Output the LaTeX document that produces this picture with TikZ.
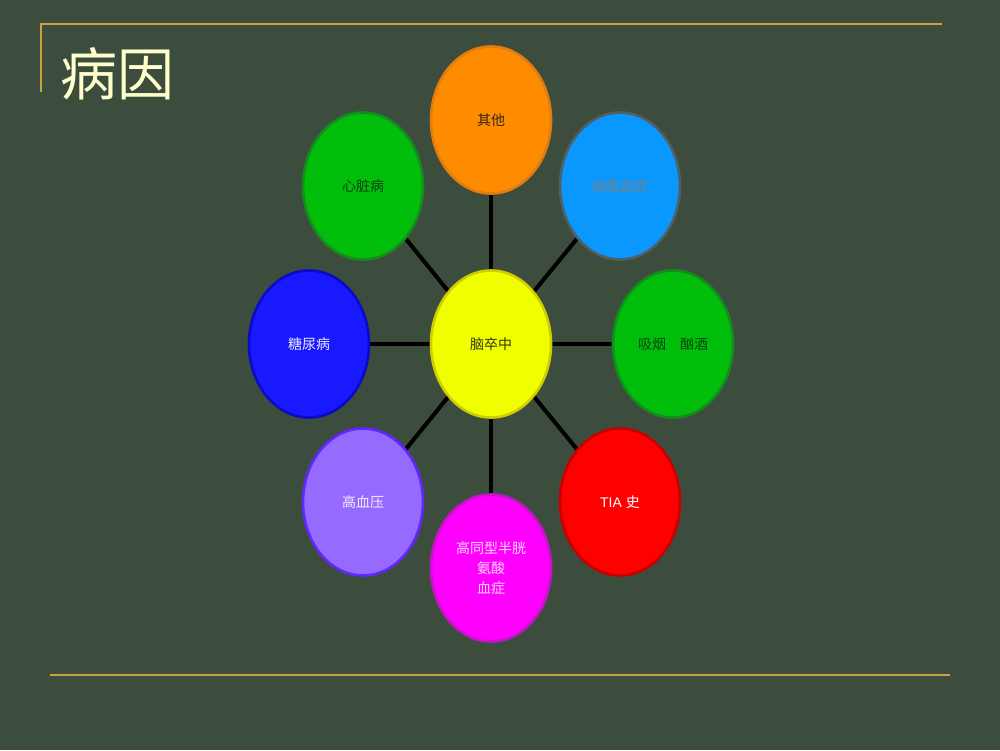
\documentclass[tikz,border=0pt]{standalone}
\usepackage{fontspec}
\setmainfont{Liberation Sans}
\newfontfamily\cjk{Noto Sans CJK SC}
\usetikzlibrary{shapes.geometric}
\definecolor{bg}{HTML}{3C4C3D}
\definecolor{gold}{HTML}{C9A143}
\definecolor{titlec}{HTML}{FFFFCC}
\tikzset{
  bubble/.style={ellipse, minimum width=120pt, minimum height=147pt, inner sep=0pt,
    line width=2.6pt, align=center, font=\cjk\fontsize{14}{20}\selectfont},
  spoke/.style={line width=4pt, black},
  rule/.style={gold, line width=2pt}
}
\begin{document}
\begin{tikzpicture}[x=1pt,y=-1pt]
\fill[bg] (0,0) rectangle (1000,750);
\useasboundingbox (0,0) rectangle (1000,750);
\coordinate (tl) at (41,92);
\coordinate (tc) at (41,24);
\coordinate (tr) at (942,24);
\coordinate (bl) at (50,675);
\coordinate (br) at (950,675);
\draw[rule] (tl) -- (tc) -- (tr);
\draw[rule] (bl) -- (br);
\node[anchor=west, text=titlec, font=\cjk\fontsize{57}{62}\selectfont, inner sep=0pt] (title) at (60,74) {病因};
% centres
\coordinate (pc) at (491,344);
\coordinate (p1) at (491,120);
\coordinate (p2) at (620,186);
\coordinate (p3) at (673,344);
\coordinate (p4) at (620,502);
\coordinate (p5) at (491,568);
\coordinate (p6) at (363,502);
\coordinate (p7) at (309,344);
\coordinate (p8) at (363,186);
\foreach \i in {1,...,8} \draw[spoke] (pc) -- (p\i);
\node[bubble, fill={rgb,255:red,255;green,140;blue,0}, draw={rgb,255:red,225;green,125;blue,15}, text={rgb,255:red,50;green,40;blue,20}] (n1) at (p1) {其他};
\node[bubble, fill={rgb,255:red,10;green,152;blue,255}, draw={rgb,255:red,80;green,95;blue,100}, text={rgb,255:red,120;green,130;blue,135}] (n2) at (p2) {高脂血症};
\node[bubble, fill={rgb,255:red,0;green,190;blue,10}, draw={rgb,255:red,20;green,140;blue,30}, text={rgb,255:red,10;green,70;blue,10}] (n3) at (p3) {吸烟\quad 酗酒};
\node[bubble, fill={rgb,255:red,255;green,0;blue,0}, draw={rgb,255:red,200;green,0;blue,0}, text=white] (n4) at (p4) {\fontspec{Liberation Sans}TIA \cjk 史};
\node[bubble, fill={rgb,255:red,255;green,0;blue,255}, draw={rgb,255:red,200;green,20;blue,200}, text={rgb,255:red,255;green,215;blue,255}] (n5) at (p5) {高同型半胱\\氨酸\\血症};
\node[bubble, fill={rgb,255:red,150;green,105;blue,255}, draw={rgb,255:red,95;green,40;blue,255}, text={rgb,255:red,240;green,235;blue,255}] (n6) at (p6) {高血压};
\node[bubble, fill={rgb,255:red,25;green,25;blue,255}, draw={rgb,255:red,10;green,10;blue,200}, text={rgb,255:red,235;green,235;blue,255}] (n7) at (p7) {糖尿病};
\node[bubble, fill={rgb,255:red,0;green,190;blue,10}, draw={rgb,255:red,20;green,140;blue,30}, text={rgb,255:red,10;green,70;blue,10}] (n8) at (p8) {心脏病};
\node[bubble, fill={rgb,255:red,240;green,255;blue,0}, draw={rgb,255:red,205;green,205;blue,0}, text={rgb,255:red,50;green,50;blue,20}] (nc) at (pc) {脑卒中};
\end{tikzpicture}
\end{document}
